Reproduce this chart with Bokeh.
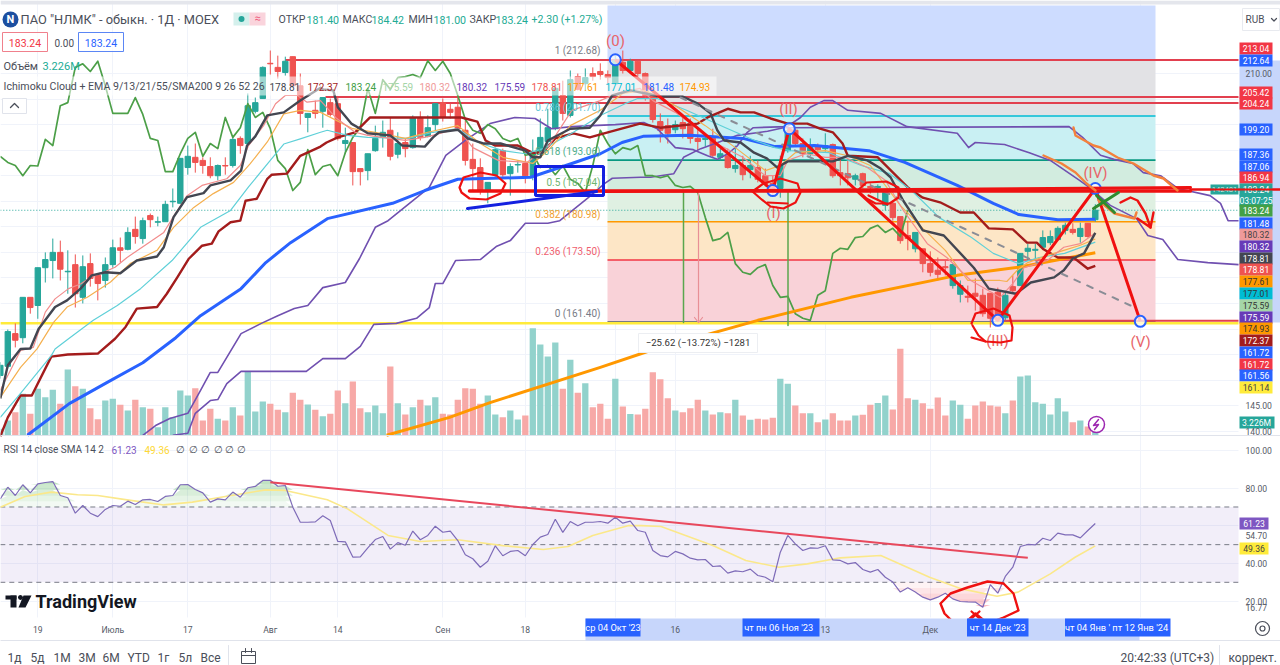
from bokeh.plotting import figure
from bokeh.models import Range1d, LinearAxis, FixedTicker, Grid, NumeralTickFormatter
from bokeh.core.properties import value
from bokeh.embed import file_html
from bokeh.resources import INLINE

# ---------- data ----------
direction = ("GGRGRGGGRGRGRRGGRGRGRGGGGGRRRGRGRGGGRRGRRGRGRRGRRGGGRGRGRGGRRRRRRGGRGGRGGGGRGRGRRRGRGRRRRRGRRRGRGRGRGRRRGGRRGRGRRRGRRGGRRRGRRRRGGRRRRRGRGGGGGGGRGRGRGG")
direction = direction[:147]
candle_top = [152.9,159.5,159.1,166.2,166.2,172.0,173.6,175.0,175.0,171.3,
 172.6,172.2,172.8,170.5,172.6,175.9,175.9,178.9,179.5,181.2,
 182.2,181.0,184.4,185.0,193.4,193.8,193.6,193.0,191.8,192.0,
 192.0,197.1,197.3,203.7,204.3,211.2,212.0,211.2,212.4,213.3,
 207.6,202.2,202.8,205.3,204.3,204.1,196.9,196.5,191.4,194.3,
 197.3,198.5,198.9,196.3,196.5,201.4,201.4,199.4,204.1,204.3,
 203.0,203.4,198.9,193.2,191.6,188.7,195.1,194.9,191.8,192.2,
 192.4,194.5,197.5,199.4,207.1,205.7,208.8,209.4,209.2,210.0,
 210.4,209.8,212.5,212.2,212.4,212.4,210.0,205.7,200.6,199.8,
 200.0,200.4,200.2,197.3,197.3,197.3,194.3,193.9,192.0,192.0,
 192.0,191.6,190.0,188.5,192.0,198.9,198.9,196.3,195.5,195.7,
 195.9,196.1,190.6,190.4,190.0,190.4,187.9,187.9,186.7,184.6,
 182.0,178.3,178.9,175.7,172.8,171.5,172.2,172.6,168.5,166.4,
 167.0,166.6,167.0,167.2,166.6,168.3,174.8,175.8,175.6,177.9,
 178.1,179.7,180.3,179.5,179.7,180.7,183.24]
candle_bot = [150.9,152.7,157.8,158.3,164.2,164.6,172.0,173.4,171.7,171.2,
 166.9,166.2,169.9,168.9,169.5,172.6,175.4,175.6,178.1,177.7,
 181.4,180.9,181.0,184.9,184.6,191.6,192.6,192.0,190.0,190.0,
 191.9,192.0,195.9,196.3,202.6,205.1,211.9,210.4,210.2,207.6,
 202.2,201.4,202.2,202.6,202.0,197.3,196.3,190.8,190.8,191.0,
 194.9,197.5,193.8,194.2,195.3,195.5,197.5,197.7,200.0,201.4,
 202.4,199.2,193.0,191.4,187.1,187.1,190.2,190.2,190.4,192.1,
 190.0,190.0,194.3,196.7,199.2,202.2,201.8,206.9,208.0,209.4,
 209.8,209.2,208.0,210.6,210.6,210.0,205.7,201.0,198.9,198.3,
 199.0,199.2,197.3,196.7,197.1,194.0,193.6,191.6,191.4,190.2,
 191.2,189.3,188.5,186.7,187.5,194.9,196.3,194.3,194.3,195.1,
 195.3,190.0,190.0,189.6,189.3,188.1,187.7,187.7,184.2,181.8,
 177.3,177.7,175.7,172.8,171.1,170.7,172.0,168.5,166.8,166.2,
 166.4,163.0,162.1,161.7,162.2,167.5,168.5,175.2,175.4,176.0,
 176.9,177.5,179.3,178.9,178.1,178.1,181.40]
highs = [153.5,159.9,161.1,166.2,166.2,172.0,175.0,177.7,177.3,175.4,
 174.6,174.4,174.8,170.7,174.0,177.5,177.9,179.9,182.0,181.8,
 182.6,182.0,185.1,187.5,193.4,195.9,196.3,193.6,193.6,192.2,
 193.6,197.5,197.7,206.1,205.3,211.4,214.5,213.5,213.3,213.3,
 210.0,202.2,204.7,205.3,205.1,205.3,199.4,196.5,191.4,194.3,
 199.8,200.8,201.4,198.5,197.3,201.8,202.6,201.8,204.1,205.1,
 204.1,205.3,200.8,196.3,193.4,188.7,195.5,195.3,192.4,193.0,
 194.9,197.1,201.2,203.1,207.7,208.6,210.6,210.0,211.0,211.2,
 212.0,210.6,213.5,214.5,212.9,212.5,210.2,205.7,202.2,201.2,
 200.8,201.6,201.2,199.4,197.9,199.2,195.3,195.3,195.9,193.9,
 193.9,193.0,191.4,190.0,193.9,199.4,199.2,197.3,197.3,196.3,
 198.3,196.3,193.4,193.0,190.4,190.6,188.5,188.3,187.1,185.1,
 182.0,181.2,178.9,175.7,175.2,174.0,173.4,172.8,169.5,168.5,
 169.9,167.9,167.0,168.1,167.5,170.5,174.8,176.7,176.7,179.3,
 179.3,180.1,180.8,180.7,180.8,180.7,184.42]
lows = [150.3,152.3,156.4,157.2,163.0,162.0,169.1,169.9,169.5,166.9,
 164.2,165.0,168.3,165.6,168.1,172.0,173.0,175.4,176.7,176.7,
 179.9,180.1,181.0,183.8,184.6,190.2,190.6,190.4,189.5,189.1,
 190.2,191.6,194.3,195.9,202.2,205.1,209.8,209.0,209.6,207.6,
 200.0,198.5,201.2,199.4,201.6,196.9,194.3,188.1,188.1,189.1,
 194.7,195.5,193.0,193.4,193.6,195.3,196.9,197.5,198.9,200.6,
 201.2,198.9,192.0,187.1,186.3,184.6,189.8,189.8,186.1,190.6,
 188.5,189.1,193.9,195.9,198.9,200.8,201.4,206.7,206.7,208.6,
 208.8,208.0,208.0,210.0,210.2,209.4,204.7,200.4,196.5,196.3,
 198.3,197.3,196.3,194.9,195.7,193.6,193.0,191.4,190.6,189.1,
 189.5,188.7,187.9,186.1,185.7,194.5,195.9,193.6,193.8,194.5,
 194.7,189.6,188.1,188.1,188.1,187.5,186.5,185.1,183.2,181.2,
 176.7,175.4,175.0,171.1,170.3,169.5,170.5,167.9,165.2,165.2,
 163.6,162.4,160.3,161.3,161.7,167.1,168.5,173.4,173.4,175.8,
 176.4,177.3,178.5,178.5,176.9,177.9,181.00]
volume_m = [2.7,6,9.3,16.7,8.7,18.7,15.3,18.3,12.7,26.4,
 19.7,18.7,10.9,6.5,14,14.7,12.3,10,14.3,11.3,
 10.7,3.3,11.3,7.3,18,16,18.9,6,10.7,6.7,
 6,11.3,8,25.7,9.6,13.6,12.7,10.3,9.3,17.1,
 14.3,12.4,10.3,7.7,8.7,18,12.9,21.6,10.9,9.3,
 12,8.9,27.6,12.9,8.4,11.3,14.3,12,15.3,8.7,
 8.4,14.3,18.9,18.7,12.7,16,8.4,7.3,10,6.4,
 8,42.9,36.4,31.6,37.2,18.7,30.3,17.1,20.9,11.3,
 12.7,6.7,22.7,11.6,8.6,8.4,10.7,25.3,22.5,14.9,
 10,9.3,10.9,14.3,10,8.4,9.3,8.9,14.3,8,
 6.3,6.7,6.4,7.1,22.7,20.7,12,8.9,8.9,5.3,
 6.4,8.9,6,6,8,8.3,12.3,13,16,10.4,
 34.7,14.9,14.3,12.9,10.7,15.2,8,14,12.3,6.7,
 12,13.6,12,11.6,8.9,14,23.6,24,13.3,12.7,
 8.4,14.9,9.6,5.3,6,3.6,3.226]
rsi_values = [74.3,80.5,76.1,81.8,77.5,82.3,83,83.5,76.1,74.9,
 66.7,70.8,66.7,64.9,68.7,70.8,70.4,73.1,71.3,73.8,
 74,72.9,75.6,76.1,81.8,81.9,79.3,77.5,72.6,74.3,
 73.8,77.9,75.2,80.2,80.9,84.1,84.2,81,81.4,69.9,
 61.9,61.9,62.1,65.3,62.8,51.7,51.5,43.4,43.5,48.3,
 52.7,54.3,47.6,51.1,49.7,57.2,52.6,54.9,59.8,56.6,
 57.2,52.2,44.6,42.5,38,41.2,49.4,44.1,46.4,46.9,
 44.1,50.1,54,55.4,63.5,56.5,62.3,60,61.9,61.9,
 62.3,61.4,64.6,61.4,62.5,57.5,56.6,46.9,44.2,43.5,
 46.4,45.1,42.8,41.9,42.1,38.4,38.7,34.9,36.1,35.6,
 37,33.6,32.7,30.3,46,54.9,50.4,46.9,48.3,48.1,
 49.4,41.9,41.6,39.8,40.5,36.8,35.4,36.8,32.7,30.1,
 24.8,27.1,24.8,22.1,20.7,22.1,24.2,21.2,19.8,19.6,
 19.5,16.77,28.8,24.2,33.1,38,49,50.1,49.9,53.4,
 52.2,56.1,55.2,55.2,53.6,57.5,61.23]
rsi_sma = [(0,69.9),(3.3,75.6),(6.8,77.9),(10.3,76.5),(13,76.1),(16.9,73.8),(21.8,71.1),(25.6,72.6),(30,75.6),(35.4,79.1),(38,78.8),(43.6,73.8),(46.3,69),(51.7,54.9),(56,51.7),(61,52.6),(67,49.5),(72.4,47.4),(75.7,49),(79,54.9),(83.8,60.2),(85.5,60.1),(88.1,59.6),(95,49.5),(99.4,41.6),(103.8,38),(107.6,39.8),(112,43),(117.4,44.2),(123.9,32.7),(128.2,26.5),(132.9,22.6),(135.7,24.8),(140,34.5),(143.3,43.3),(146,49.36)]
tenkan = [(0,146.4),(1,152.9),(2.7,156.1),(4,156.2),(5.1,160),(7.3,164.3),(8.9,165.6),(10.7,167.9),(12.2,170.5),(14,171.1),(16,170.9),(18.2,173.4),(20.9,174.2),(21.8,176),(23.1,181.9),(24.9,185.8),(27.1,186.6),(28,188.1),(30.7,189.1),(32.1,191),(32.9,195.9),(34,197.7),(35.6,201.8),(37.8,202.4),(40,204.7),(42.7,207.2),(43,206.9),(44.4,206.7),(45,203.4),(46.8,200.2),(48,199.2),(49,198.3),(52,197.9),(53.6,195.9),(56.6,195.7),(57.7,197.5),(58.5,198.5),(61,199),(62.3,197.3),(64.5,196.3),(66.7,196.3),(70,194.9),(71,193.6),(72,193.6),(73,196.9),(76,199.2),(78.6,199.4),(80,201.8),(81.6,205.7),(84,206.7),(88,205.5),(91,205.5),(93,204.1),(94.7,202.2),(95.6,198.9),(96.5,196.9),(98.7,196.5),(100.5,194.5),(102.2,193.4),(103.6,191.6),(105,192.8),(111,192.8),(113,193.9),(115.6,193),(117.4,191.4),(118.7,189.7),(120.4,185.1),(123,179.3),(125.8,178.3),(129.8,172),(131.8,167.9),(135.4,166.9),(137.4,169.1),(140.5,170.1),(141.8,171.5),(143,173.8),(144.5,174.8),(146,178.81)]
kijun = [(0,139),(1,142.7),(2.7,147),(4.2,147),(6.8,154.6),(9,155),(13,155.2),(15.3,158.1),(16.7,160.4),(18.2,164),(20.9,164.3),(22.2,166.9),(23.6,170.1),(25.1,173.7),(26.9,176.3),(28.2,176.7),(29.1,179.1),(30.7,180.9),(32,181.2),(32.7,185.1),(34.2,185.5),(35.6,189.4),(36.2,190.2),(38.2,190.4),(40,193.9),(42.7,195.7),(43.5,196.5),(45,197.5),(47.3,198.5),(49.3,201.4),(61.5,201.4),(63.6,200.6),(64.7,196.9),(66,195.9),(69,195.9),(71,194.5),(72.3,194.5),(74,197.3),(76.4,198.3),(78.6,197.5),(81,198.5),(85.3,200.2),(88,199.4),(93,200.2),(94.3,201.4),(97,203.1),(98.7,202.4),(100.5,202.4),(102.7,201.2),(105,200.2),(107.6,200.2),(109.3,199.2),(111,198.5),(112.3,196.3),(113,193.9),(117,193.6),(121,187.7),(123,185.7),(125.3,184.8),(128,182.8),(129.8,182.8),(131.8,179.7),(135,179.5),(136.9,176.9),(138.2,176.9),(139.1,175.6),(141,174),(143.1,174),(145,171.8),(146,172.37)]
ema9 = [(0,148),(2.7,155.8),(4.4,156.4),(6,163.3),(7.3,165.9),(9.1,167.9),(10.7,168.8),(12,170.1),(13.8,171.1),(15.3,172.1),(16.9,174),(19.6,176.7),(21.8,178.9),(23.3,182.5),(24.9,186.1),(26.9,188.1),(30.2,189.4),(32,192),(33.1,195.9),(35.1,199.8),(36.7,204.1),(38,205.7),(39.6,205.7),(40.9,204.4),(42.7,204.7),(44.7,201.4),(47.3,198.5),(49,197.9),(54,196.9),(56.6,197.5),(61,199.2),(63,195.5),(66.4,193),(70.2,192.6),(73,195.5),(76.2,202.8),(80,204.7),(82.2,206.1),(85.3,207.1),(87,204.7),(90,202.4),(93,199.2),(96,195.9),(99,193.6),(102,190),(104,190),(105,193),(107.4,194.3),(110,193.6),(112.6,193.6),(115.6,191.6),(118,189.1),(120.4,183.2),(123.6,176.7),(126.2,174),(129.4,169.5),(133.3,166.2),(135,168.9),(136.5,172),(139.6,173.4),(141.8,176),(144,176.7),(146,178.81)]
ema13 = [(0,146.6),(2.7,152.5),(4.9,156.1),(7.1,161.3),(8.9,164.3),(11.6,166.2),(14.7,169.2),(17.3,172.8),(20.9,175.4),(23.1,179.9),(25.8,183.8),(28.4,186.5),(31.1,188.7),(33.3,192.3),(35.6,196.6),(37.8,202.1),(40,202.8),(42.7,202.4),(47,199.2),(50,198.5),(54,197.3),(57,198.5),(61,199.8),(64,196.3),(67,193.6),(71,192.4),(73,194.9),(76,199.8),(80,202.8),(83,206.1),(86,206.7),(90,203.7),(94,199.8),(98,195.5),(102,191),(104,192),(106,194.5),(110,194.9),(113,193.9),(116,192),(120,184.2),(123,179.7),(126,175.4),(129,169.5),(133.3,169.5),(134.2,169.3),(135.6,171.5),(137,173),(139.6,174.4),(141.8,175.4),(144,176.4),(146,177.61)]
ema21 = [(0,142.7),(2.7,147.4),(6.8,154.8),(7.3,156.1),(9.1,158.1),(12.4,161.7),(15.6,164.6),(18.7,167.9),(22.9,173.4),(26.7,179.9),(30.7,183.2),(33.1,187.8),(36,193),(37.8,196.2),(40,197.2),(42.7,198.5),(43.6,198.9),(46.3,197.9),(49,197.5),(54.4,197.3),(57.7,198.5),(61,199.2),(63.7,196.5),(67,194.9),(70,194.3),(72.4,195.3),(76.2,198.3),(80,201.8),(83.3,204.1),(85,205.1),(87.6,205.1),(91.5,202.8),(96.7,199.4),(100.6,196.9),(103.3,195.5),(105.3,194.9),(110.5,194.5),(114.8,192),(118.6,190.4),(121.5,187.1),(125.2,181.8),(129.5,177.9),(132.4,174.8),(135.8,172.8),(138.5,174),(141.9,174.8),(146,177.01)]
ema55 = [(3.6,139.2),(9.2,145.4),(14.2,149.5),(19,153.4),(23.4,158.3),(26.7,162.6),(32.1,167.9),(35.4,173),(38.7,176.9),(43.6,181.6),(52.3,184.6),(56.6,187.1),(61,189.3),(70.7,189.7),(76.2,192.4),(80,194.3),(82.9,196.5),(85.7,197.7),(91.9,197.9),(99,197.3),(103.3,195.7),(108.6,195.9),(115.8,194.9),(120.6,192.6),(127.6,188.1),(132.4,184.6),(135.8,182.4),(141,181.4),(146,181.48)]
sma200 = [(51.5,139.2),(59.9,142.7),(65.3,145.6),(80,152.5),(86.7,155.8),(101,161.7),(113.4,166.2),(127.6,170.5),(135.8,172.1),(146,174.93)]
span_a = [(19,139.2),(20.7,141.1),(22.6,142.5),(25,143.5),(26.7,148),(28,151.5),(29,151.5),(30.5,155.2),(32.1,159.1),(34.8,161.1),(37,162.6),(39.2,164),(41,164.6),(43,168.1),(46,169.1),(47.9,173.8),(50,179.9),(51.7,181.2),(57.2,187.7),(59.4,194),(62,196.9),(65.3,200.2),(68.6,201.4),(71.3,201.2),(73.5,199.2),(76.2,199.6),(78.9,199.8),(82,200),(85.8,200.4),(87.6,199.2),(90,195.5),(92.4,195.1),(94.3,193.9),(95.6,193.2),(97,194.3),(98.3,195.9),(99.6,198.5),(100.4,199.4),(104.9,199.6),(106.7,201.4),(108,203.4),(109.8,204.7),(111,204.7),(113,202.8),(117.4,202.2),(120.9,199.6),(127.6,198.3),(129.1,195.5),(130,196.5),(133.9,196.1),(137.2,194.5),(140,193),(143.9,189.1),(145.2,187.7),(148,184.2),(151.5,181.6),(153,178.3),(155,177.5),(157,173.6),(161,173),(165.1,172.6)]
span_b = [(23,139.2),(25,139.6),(26,143.5),(28,146),(29,146.2),(30.2,149.3),(32.1,151.7),(40.8,151.7),(43,154.2),(46,154.2),(48,156.6),(49.8,160.9),(52.8,161.1),(55.5,162.1),(57.2,164.2),(58,168.9),(59,168.9),(60.7,173.4),(64,173.6),(66.2,176.2),(68,177.3),(70,180.7),(73,180.7),(74.6,181.2),(78.4,185.7),(80.6,188.5),(81.6,189.5),(85.4,189.7),(86.7,189.7),(88,190),(89.8,190.4),(91.1,193.6),(93.4,195.3),(98.3,197.9),(102.3,198.7),(104.4,199.4),(142.5,199.6),(144.3,197.5),(146.7,194),(148.5,193.2),(151,192.4),(152.4,190.6),(154.7,190),(157,187.5),(161.3,186.1),(162.7,184.6),(163.7,181.2),(165.1,181.2)]
wave_index = [82,103,105.2,133,146,152]
wave_price = [212.7,187.1,199.2,161.7,187.5,161.5]
wave_names = ["(0)","(I)","(II)","(III)","(IV)","(V)"]
fib_levels = [212.68,201.70,193.06,187.04,180.98,173.50,161.40]
fib_fill = ["#e2e2e5","#c9f0f3","#d2ecdf","#dff0e2","#fde6c6","#f9d2d8"]
fib_line = ["#787b86","#00bcd4","#089981","#4caf50","#ff9800","#f23645","#787b86"]
fib_text = ["1 (212.68)","0.786 (201.70)","0.618 (193.06)","0.5 (187.04)","0.382 (180.98)","0.236 (173.50)","0 (161.40)"]
fib_text_color = ["#787b86","#5fc6d6","#4fae8a","#6fb56f","#f0a030","#ef5f6f","#787b86"]
hlines_red = [212.64,205.42,204.24,161.6]
last_close = 183.24
support_yellow = 161.14
price_ticks = [210,145,140]
rsi_ticks = [100,80,54.70,40,20,16.77]
time_ticks = [5,15,25,36,45,59,70,90,110,124]
time_labels = ["19","Июль","17","Авг","14","Сен","18","16","13","Дек"]
tag_text = ["213.04","212.64","205.42","204.24","199.20","187.36","187.06","186.94","183.24","03:07:25","183.24","181.48","180.32","180.32","178.81","178.81","177.61","177.01","175.59","175.59","174.93","172.37","161.72","161.72","161.56","161.14"]
tag_fill = ["#f23645","#2962ff","#f23645","#f23645","#2962ff","#2962ff","#2962ff","#f23645","#26a69a","#26a69a","#43a047","#2962ff","#ef9a9a","#673ab7","#434651","#ef5350","#ff9800","#00bcd4","#a5d6a7","#673ab7","#ff9800","#a31c1c","#2962ff","#f23645","#2962ff","#ffeb3b"]
tag_ink = ["white"]*12+["#444","white","white","white","#333","#333","#333","white","#333","white","white","white","white","#444"]

# ---------- page geometry of the screenshot ----------
W, H = 1280, 665
def X(px): return (px + 0.2) / 7.5
def Y(py): return 224.29 - 0.1957 * py
FONT = value("Roboto")

p = figure(width=W, height=H, x_range=Range1d(X(0), X(W)), y_range=Range1d(Y(H), Y(0)),
           x_axis_location=None, y_axis_location=None, min_border=0, toolbar_location=None,
           output_backend="svg", outline_line_color=None, background_fill_color="white",
           styles={"position": "absolute", "left": "0px", "top": "0px"})
p.extra_y_ranges["vol"] = Range1d(-92, 174)
p.extra_y_ranges["rsi"] = Range1d(100 - (H - 450) / 1.883, 100 + 450 / 1.883)
p.grid.visible = False

GRIDC = "#f0f3fa"
p.add_layout(Grid(dimension=1, ticker=FixedTicker(ticks=[140 + 5 * k for k in range(15)]), grid_line_color=GRIDC))
p.add_layout(Grid(dimension=1, y_range_name="rsi", ticker=FixedTicker(ticks=[100, 80, 60, 40, 20]), grid_line_color=GRIDC))
p.add_layout(Grid(dimension=0, ticker=FixedTicker(ticks=time_ticks + [82, 152]), grid_line_color=GRIDC))

def box(x0, x1, y0, y1, color, alpha=1.0, line=None, lw=1):
    p.quad(left=[X(x0)], right=[X(x1)], top=[Y(y0)], bottom=[Y(y1)], fill_color=color, fill_alpha=alpha,
           line_color=line, line_width=lw)
def path(pts, color, width=2.0, dash="solid", alpha=1.0):
    p.line([X(a) for a, b in pts], [Y(b) for a, b in pts], line_color=color, line_width=width,
           line_dash=dash, line_alpha=alpha, line_join="round", line_cap="round")
def txt(x, y, s, color="#4a4e59", size=11, align="left", style="normal"):
    p.text([X(x)], [Y(y)], text=[s], text_color=color, text_font=FONT, text_font_size=f"{size}px",
           text_align=align, text_baseline="middle", text_font_style=style)
def series(pairs, color, width, alpha=1.0, rng=None):
    xs = [a for a, b in pairs]; ys = [b for a, b in pairs]
    kw = {"y_range_name": rng} if rng else {}
    p.line(xs, ys, line_color=color, line_width=width, line_alpha=alpha, line_join="round", **kw)

# furniture masks
box(1238, W, 0, H, "white")
box(0, W, 617, H, "white")

# drawing backgrounds
box(607, 1155, 5, 59, "#cddcff")
box(1239, W, 60, 322, "#c7d6fb")
for k, c in enumerate(fib_fill):
    p.quad(left=[X(607)], right=[X(1155)], top=[fib_levels[k]], bottom=[fib_levels[k + 1]], fill_color=c, line_color=None)
for k, c in enumerate(fib_line):
    p.segment([X(607)], [fib_levels[k]], [X(1155)], [fib_levels[k]], line_color=c, line_width=1.6)

# volume
up = [d == "G" for d in direction]
idx = list(range(147))
p.vbar(x=idx, top=volume_m, bottom=0, width=0.84, y_range_name="vol", line_color=None,
       fill_color=["#92d2cc" if u else "#f7a9a7" for u in up])

# level lines
p.segment([0], [support_yellow], [X(1238)], [support_yellow], line_color="#ffeb3b", line_width=2.5)
p.segment([0], [last_close], [X(1238)], [last_close], line_color="#26a69a", line_width=1, line_dash="1 2")
for lv, start in zip(hlines_red, [285, 325, 389, 1000]):
    p.segment([X(start)], [lv], [X(1238)], [lv], line_color="#e2404f", line_width=2)

# candles
cols = ["#26a69a" if u else "#ef5350" for u in up]
p.segment(idx, lows, idx, highs, line_color=cols, line_width=1)
p.vbar(x=idx, top=candle_top, bottom=candle_bot, width=0.72, fill_color=cols, line_color=cols)

# indicators
series(span_a, "#7050b0", 1.6)
series(span_b, "#7050b0", 1.6)
closes = [t if u else b for t, b, u in zip(candle_top, candle_bot, up)]
chikou = [(i, closes[i + 25]) for i in range(122)]
series(chikou, "#4c9f48", 1.7)
series(ema55, "#2962ff", 3)
series(sma200, "#ff9800", 3)
series(kijun, "#a31c1c", 2.4)
series(ema21, "#5fd0d8", 1.2)
series(ema13, "#f5b04f", 1.2)
series(ema9, "#f28c8c", 1.2)
series(tenkan, "#434651", 2.4)

# dashed projection and vertical measures
path([(680, 97), (1130, 305)], "#8a8d96", 2, "6 8")
path([(683, 190), (683, 322)], "#5aa64e", 1.5)
path([(787.5, 190), (787.5, 325)], "#5aa64e", 1.5)
path([(698, 190), (698, 322)], "#e88f96", 1.2)
path([(694, 317), (698, 322), (702, 317)], "#e88f96", 1.2)

# waves
p.line(wave_index, wave_price, line_color="#f01010", line_width=3, line_join="round")
p.scatter(wave_index, wave_price, size=11, fill_color="white", fill_alpha=0.75, line_color="#2962ff", line_width=2)
for nm, xx, yy in zip(wave_names, [615, 773, 788, 997, 1095, 1140], [40, 212, 108, 340, 172, 341]):
    txt(xx, yy, nm, "#e8656a", 15, "center")

# hand drawing in red / blue / orange / green
RED = "#ee1111"
path([(469, 190.5), (1190, 190.5)], RED, 3.5)
path([(605, 191), (1190, 187)], RED, 3)
path([(1190, 189), (W, 189)], RED, 2)
path([(459,187),(463,177),(480,172),(496,175),(505,183),(500,193),(486,199),(469,198),(461,192),(459,187)], RED, 2.2)
path([(752,191),(763,183),(780,178),(797,183),(800,192),(795,202),(783,208),(770,206),(760,198),(752,191)], RED, 2.2)
path([(767,202),(787,203)], RED, 2.2)
path([(857,190),(866,182),(886,181),(898,187),(898,197),(889,203),(875,203),(866,198),(857,190)], RED, 2.2)
path([(868,195),(887,204)], RED, 2.2)
path([(971,323),(975,313),(993,308),(1009,315),(1012,327),(1011,340),(1000,342),(985,341),(978,335),(972,325)], RED, 2.2)
path([(971,337),(985,341)], RED, 2.2)
path([(1120,202),(1130,197),(1137,200),(1145,213),(1150,227),(1137,218)], RED, 2.4)
path([(1150,227),(1153,212)], RED, 2.4)
path([(467,208),(596,191)], "#1420e0", 3)
p.quad(left=[X(535)], right=[X(603)], top=[Y(166)], bottom=[Y(195)], fill_alpha=0, line_color="#1420e0", line_width=3)
ORG = "#f4813c"
path([(1043,155),(1061,163),(1075,172),(1086,183),(1095,190)], ORG, 2.4)
path([(1073,127),(1075,135),(1093,145),(1100,147),(1117,157),(1133,163),(1153,175),(1163,178),(1177,190)], ORG, 2.4)
path([(1098,200),(1114,213),(1134,218),(1136,212)], ORG, 2.4)
path([(1093,208),(1118,192)], "#2e8b2e", 3)
path([(1096,195),(1114,212)], "#2e8b2e", 3)

# bolt
p.circle([X(1096)], [Y(424)], radius=8, radius_units="screen", fill_color="white", line_color="#9c27b0", line_width=1.5)
path([(1098,419),(1093,425),(1098,424),(1094,429)], "#9c27b0", 1.5)

# RSI pane
R = "rsi"
p.quad(left=[0], right=[X(1238)], top=[70], bottom=[30], y_range_name=R, fill_color="#7e57c2", fill_alpha=0.1, line_color=None)
for lv in (70, 50, 30):
    p.segment([0], [lv], [X(1238)], [lv], y_range_name=R, line_color="#787b86", line_width=1, line_dash="5 4")
for k, (a, b) in enumerate([(70, 73), (73, 76), (76, 79), (79, 82), (82, 85)]):
    top = [min(max(v, a), b) for v in rsi_values]
    p.varea(idx, y1=[a] * 147, y2=top, y_range_name=R, fill_color="#4caf50", fill_alpha=0.07 + 0.07 * k)
for k, (a, b) in enumerate([(27, 30), (24, 27), (21, 24), (18, 21), (15, 18)]):
    low = [max(min(v, b), a) for v in rsi_values]
    p.varea(idx, y1=[b] * 147, y2=low, y_range_name=R, fill_color="#f23645", fill_alpha=0.06 + 0.07 * k)
series(rsi_sma, "#fbe88a", 1.6, rng=R)
p.line(idx, rsi_values, y_range_name=R, line_color="#7e6bb8", line_width=1.2)
p.line([36, 137], [83.2, 43], y_range_name=R, line_color="#e8485c", line_width=2)
path([(940,603),(950,593),(967,587),(987,581),(1003,583),(1013,593),(1018,610),(1003,617),(987,623),(975,613),(964,623),(954,623),(944,613),(940,603)], RED, 2.4)
path([(971,611),(979,618)], RED, 2.2)
path([(979,611),(971,618)], RED, 2.2)

# separators
path([(0, 435), (W, 435)], "#e0e3eb", 1)
path([(0, 640), (W, 640)], "#e0e3eb", 1)
box(0, W, 0, 4, "#e4e6ec")
path([(228, 645), (228, 664)], "#e0e3eb", 1)
path([(1219, 645), (1219, 664)], "#e0e3eb", 1)

# price tags
for s, c, ink, yy in zip(tag_text, tag_fill, tag_ink, [48,60,92,103,129,154,166,177,189,200,210,223,234,246,258,269,281,293,305,317,328,340,352,364,375,387]):
    box(1239, 1272, yy - 6, yy + 6, c)
    txt(1255.5, yy, s, ink, 8.6, "center")
box(1210, 1238, 184, 194, "#26a69a")
txt(1224, 189, "142481", "#c9efe9", 7.5, "center")
box(1239, 1274, 416, 428, "#26a69a")
txt(1256, 422, "3.226M", "white", 8.6, "center")
box(1239, 1268, 517, 529, "#7e57c2")
txt(1253.5, 523, "61.23", "white", 8.6, "center")
box(1239, 1268, 542, 554, "#ffeb3b")
txt(1253.5, 548, "49.36", "#444", 8.6, "center")
path([(1190, 189), (W, 189)], RED, 2)

# axes (real axes, placed inside the canvas)
lab = dict(axis_line_color=None, major_tick_line_color=None, minor_tick_line_color=None,
           major_label_text_color="#555a66", major_label_text_font="Roboto", major_label_text_font_size="8.6px")
price_axis = LinearAxis(ticker=FixedTicker(ticks=price_ticks), fixed_location=X(1236),
                        formatter=NumeralTickFormatter(format="0.00"), major_label_standoff=3, **lab)
p.add_layout(price_axis, "right")
rsi_axis = LinearAxis(ticker=FixedTicker(ticks=rsi_ticks), fixed_location=X(1236), y_range_name="rsi",
                      formatter=NumeralTickFormatter(format="0.00"), major_label_standoff=3, **lab)
p.add_layout(rsi_axis, "right")

# time band and date tags
box(585, 1139, 618, 640, "#c7d6fb")
for x0, x1, s in [(585, 640, "ср 04 Окт '23"), (742, 819, "чт   пн 06 Ноя '23"), (966.5, 1028, "чт 14 Дек '23"), (1064.5, 1170, "чт 04 Янв '  пт 12 Янв '24")]:
    box(x0, x1, 618, 636, "#2962ff")
    txt((x0 + x1) / 2, 627, s, "white", 9.3, "center")
time_axis = LinearAxis(ticker=FixedTicker(ticks=time_ticks), fixed_location=Y(614),
                       major_label_overrides={t: l for t, l in zip(time_ticks, time_labels)}, major_label_standoff=4, **lab)
p.add_layout(time_axis, "below")

# header
box(0, 716, 76, 95, "white", 0.55)
p.circle([X(10)], [Y(19)], radius=8, radius_units="screen", fill_color="#1c4fa0", line_color=None)
txt(10, 19, "N", "white", 11, "center", "bold")
txt(20, 19, "ПАО \"НЛМК\" - обыкн. · 1Д · MOEX", "#4a4e59", 12.8)
box(233, 249, 12, 25, "#d4f0ec")
box(249, 265, 12, 25, "#fad4dc")
p.circle([X(241)], [Y(18.5)], radius=3, radius_units="screen", fill_color="#26a69a", line_color=None)
txt(257, 18, "≈", "#ef5f7f", 11, "center")
for x, s, c in [(278,"ОТКР","#4a4e59"),(306,"181.40","#22ab94"),(342,"МАКС","#4a4e59"),(371,"184.42","#22ab94"),(408,"МИН","#4a4e59"),(433,"181.00","#22ab94"),(469,"ЗАКР","#4a4e59"),(495,"183.24","#22ab94"),(531,"+2.30 (+1.27%)","#22ab94")]:
    txt(x, 19, s, c, 10.6)
p.quad(left=[X(2)], right=[X(47)], top=[Y(32)], bottom=[Y(51)], fill_color="white", fill_alpha=0.7, line_color="#f0808c", line_width=1)
txt(24.5, 42, "183.24", "#f23645", 10.5, "center")
txt(54, 42, "0.00", "#4a4e59", 10)
p.quad(left=[X(78)], right=[X(123)], top=[Y(32)], bottom=[Y(51)], fill_color="white", fill_alpha=0.7, line_color="#5b86f5", line_width=1)
txt(100.5, 42, "183.24", "#2962ff", 10.5, "center")
txt(3, 66, "Объём", "#4a4e59", 11)
txt(42, 66, "3.226M", "#22ab94", 11)
txt(3, 86, "Ichimoku Cloud + EMA 9/13/21/55/SMA200 9 26 52 26", "#4a4e59", 10.6)
for x, s, c in [(269,"178.81","#434651"),(307,"172.37","#a31c1c"),(345,"183.24","#43a047"),(382,"175.59","#a5d6a7"),(419,"180.32","#ef9a9a"),(456,"180.32","#673ab7"),(494,"175.59","#673ab7"),(531,"178.81","#ef5350"),(567,"177.61","#ff9800"),(605,"177.01","#00bcd4"),(643,"181.48","#2962ff"),(679,"174.93","#ff9800")]:
    txt(x, 86, s, c, 10)
p.quad(left=[X(2)], right=[X(26)], top=[Y(98)], bottom=[Y(113)], fill_color="white", line_color="#e0e3eb")
path([(10, 107), (14, 103), (18, 107)], "#4a4e59", 1.3)
txt(3, 449, "RSI 14 close SMA 14 2", "#4a4e59", 10)
txt(111, 449, "61.23", "#7e57c2", 10)
txt(144, 449, "49.36", "#fdd835", 10)
for x in (175, 188, 200, 213, 224, 236):
    txt(x, 449, "∅", "#4a4e59", 10)

# fib labels and measure box
for s, c, yy in zip(fib_text, fib_text_color, [50, 107, 151, 182, 214, 251, 313]):
    txt(600, yy, s, c, 10, "right")
box(638, 757, 333, 352, "white", 1, "#eceef2")
txt(697.5, 342, "−25.62 (−13.72%) −1281", "#333", 9.6, "center")

# logo
box(5, 16, 595, 599, "#131722")
box(10, 16, 595, 607, "#131722")
p.circle([X(20)], [Y(597)], radius=2.5, radius_units="screen", fill_color="#131722", line_color=None)
p.patch([X(23), X(31), X(25), X(18)], [Y(595), Y(595), Y(607), Y(607)], fill_color="#131722", line_color=None)
txt(35, 601, "TradingView", "#131722", 18, "left", "bold")

# bottom bar
for x, s in [(7,"1д"),(30,"5д"),(53,"1М"),(78,"3М"),(102,"6М"),(127,"YTD"),(157,"1г"),(178,"5л"),(200,"Все")]:
    txt(x, 657, s, "#4a4e59", 12)
p.quad(left=[X(241)], right=[X(255)], top=[Y(651)], bottom=[Y(663)], fill_alpha=0, line_color="#4a4e59")
path([(241, 655), (255, 655)], "#4a4e59", 1)
path([(245, 648), (245, 652)], "#4a4e59", 1)
path([(251, 648), (251, 652)], "#4a4e59", 1)
txt(1120, 657, "20:42:33 (UTC+3)", "#4a4e59", 12)
txt(1228, 657, "коррект.", "#4a4e59", 12)

# currency and gear
p.quad(left=[X(1242)], right=[X(1279)], top=[Y(8)], bottom=[Y(30)], fill_color="white", line_color="#e8eaef")
txt(1245, 19, "RUB", "#4a4e59", 10)
path([(1271, 18), (1273.5, 20.5), (1276, 18)], "#4a4e59", 1.2)
p.circle([X(1262)], [Y(628)], radius=7, radius_units="screen", fill_color="white", line_color="#4a4e59", line_width=1.2)
p.circle([X(1262)], [Y(628)], radius=2.5, radius_units="screen", fill_color="white", line_color="#4a4e59", line_width=1.2)

open("out.html", "w").write(file_html(p, INLINE))
